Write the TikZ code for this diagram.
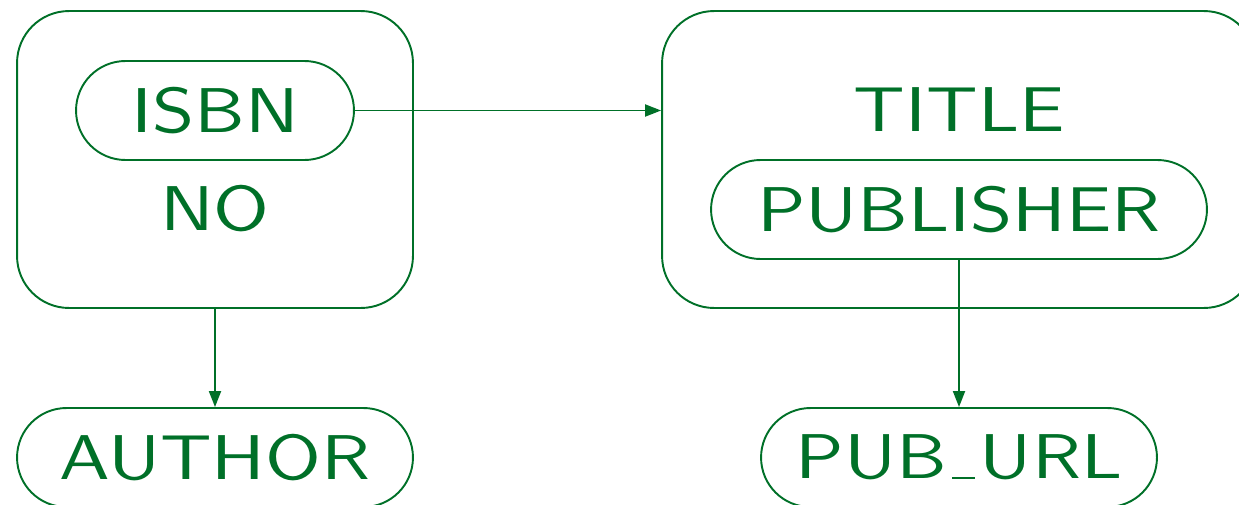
\documentclass[tikz,border=0pt]{standalone}
\usepackage{fontspec}
\newfontfamily\lblfont{lmsans10-regular}[Extension=.otf,FakeStretch=1.2]
\usetikzlibrary{arrows.meta}
\definecolor{ergreen}{RGB}{0,112,40}
\newcommand\undbar{\kern.08em\vbox{\hrule width.36em height .9pt}\kern.08em}

\begin{document}
\begin{tikzpicture}[x=0.02cm,y=-0.02cm,
  every node/.style={text=ergreen, font=\lblfont\fontsize{36}{36}\selectfont, inner sep=0pt},
  box/.style={draw=ergreen, line width=1.1pt, rounded corners=1.04cm, minimum height=5.94cm},
  pill/.style={draw=ergreen, line width=1.1pt, rounded corners=0.99cm, minimum height=1.98cm},
  link/.style={draw=ergreen, line width=1.1pt, -{Triangle[length=0.32cm,width=0.24cm]}}]
  \useasboundingbox (0,0) rectangle (1239,504);
  \node[box, minimum width=7.92cm] (lbox) at (215,159.5) {};
  \node[pill, minimum width=5.56cm] (isbn) at (215,110.5) {ISBN};
  \node (no) at (215,209) {NO};
  \node[box, minimum width=11.88cm] (rbox) at (959,159.5) {};
  \node (title) at (959,110) {TITLE};
  \node[pill, minimum width=9.92cm] (publisher) at (959,209.5) {PUBLISHER};
  \node[pill, minimum width=7.92cm] (author) at (215,457.5) {AUTHOR};
  \node[pill, minimum width=7.92cm] (puburl) at (959,457.5) {PUB\undbar URL};
  \draw[link] (isbn.east) -- (isbn.east -| rbox.west);
  \draw[link] (lbox.south) -- (author.north);
  \draw[link] (publisher.south) -- (puburl.north);
\end{tikzpicture}
\end{document}
